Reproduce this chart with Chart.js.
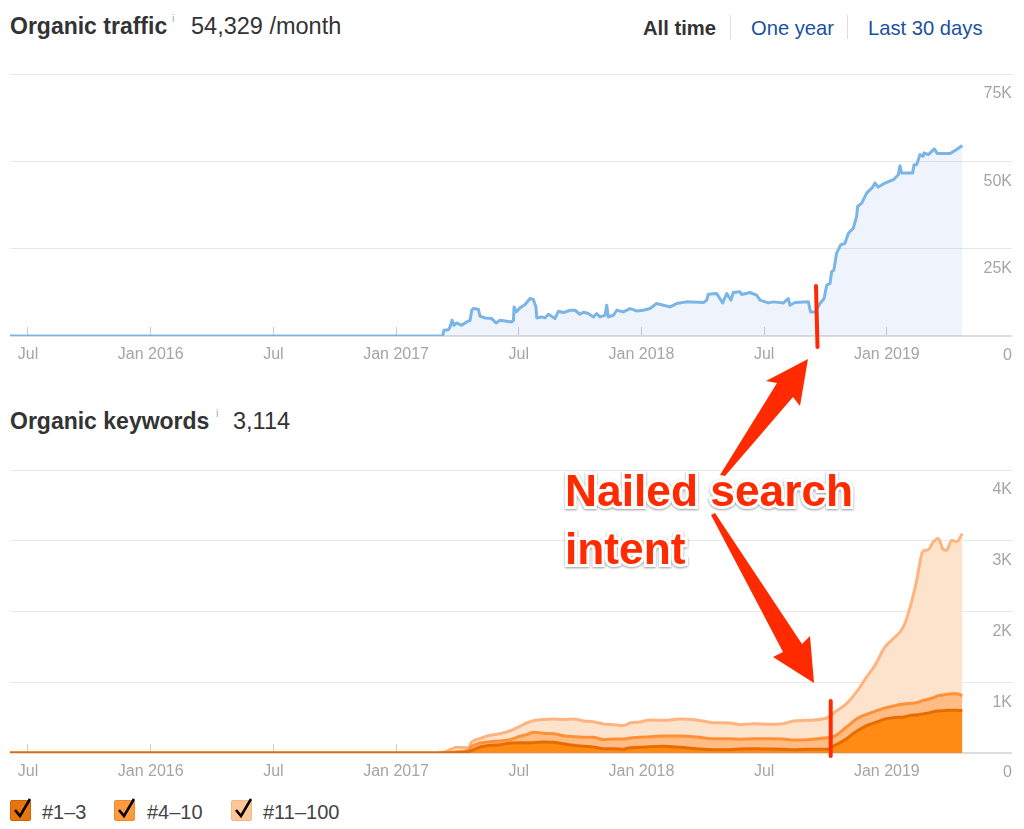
<!DOCTYPE html>
<html>
<head>
<meta charset="utf-8">
<script src="https://cdn.jsdelivr.net/npm/chart.js@4/dist/chart.umd.js"></script>
<style>
    html, body { margin: 0; padding: 0; background: #fff; }
    body { position: relative; width: 1024px; height: 829px; overflow: hidden; font-family: "Liberation Sans", sans-serif; color: #333; }
    canvas { position: absolute; left: 10px; }
    .txt { position: absolute; white-space: nowrap; line-height: 1; }
    .title { font-size: 23px; font-weight: bold; }
    .value { font-size: 23.5px; }
    .info { font-size: 11px; color: #aaa; }
    .range { font-size: 20.2px; color: #1a52a0; }
    .sep { position: absolute; top: 15px; width: 1px; height: 24px; background: #ddd; }
    .box { position: absolute; top: 800px; width: 19px; height: 19px; border-radius: 2px; border: 1px solid; }
    .legend { font-size: 20px; top: 802px; color: #444; }
    #overlay { position: absolute; left: 0; top: 0; }
    .note { font-size: 44.3px; font-weight: bold; color: #ff2a00; -webkit-text-stroke: 6px #fff; paint-order: stroke fill; filter: drop-shadow(0 1px 1px rgba(0,0,0,0.4)); }
</style>
</head>
<body>
<div class="txt title" style="left:10px;top:15px">Organic traffic</div>
<div class="txt info" style="left:172px;top:13px">i</div>
<div class="txt value" style="left:191px;top:15px">54,329 /month</div>
<div class="txt range" style="left:643px;top:18px;font-weight:bold;color:#333">All time</div>
<div class="sep" style="left:730px"></div>
<div class="txt range" style="left:751px;top:18px">One year</div>
<div class="sep" style="left:847px"></div>
<div class="txt range" style="left:868px;top:18px">Last 30 days</div>

<canvas id="traffic" width="1002" height="310" style="top:60px"></canvas>

<div class="txt title" style="left:10px;top:410px">Organic keywords</div>
<div class="txt info" style="left:216px;top:408px">i</div>
<div class="txt value" style="left:233px;top:410px">3,114</div>

<canvas id="keywords" width="1002" height="331" style="top:456px"></canvas>

<div class="box" style="left:10px;background:#e8740c;border-color:#c9650f"></div>
<div class="txt legend" style="left:42px">#1–3</div>
<div class="box" style="left:114px;background:#ff9a3e;border-color:#f08a30"></div>
<div class="txt legend" style="left:147px">#4–10</div>
<div class="box" style="left:231px;background:#ffc798;border-color:#f5b988"></div>
<div class="txt legend" style="left:263px">#11–100</div>

<svg id="overlay" width="1024" height="829">
    <g fill="none" stroke="#000" stroke-width="2.6">
        <path d="M15 810 L20 816 L30 799"/>
        <path d="M119 810 L124 816 L134 799"/>
        <path d="M236 810 L241 816 L251 799"/>
    </g>
    <g stroke="#ff2a00" stroke-width="4" stroke-linecap="round">
        <line x1="816" y1="286" x2="817.5" y2="347"/>
        <line x1="830.7" y1="701" x2="830.7" y2="756"/>
    </g>
    <g fill="#ff2a00">
        <polygon points="808,359 800,406 793,397 725,476 720,475 777,383 766,381"/>
        <polygon points="814,683 773,657 783,652 711,515 715,513 802,644 810,636"/>
    </g>
</svg>
<div class="txt note" style="left:565px;top:469px">Nailed search</div>
<div class="txt note" style="left:565px;top:527px">intent</div>

<script>
// x values are months counted from Jul 2015
const trafficData = [
    [-0.88, 0], [20.28, 100], [20.34, 1630], [20.56, 1820], [20.64, 2590], [20.74, 4500], [20.83, 3070], [20.96, 3740],
    [21.21, 3070], [21.45, 4020], [21.62, 4500], [21.70, 7380], [21.78, 7860], [22.02, 7660], [22.11, 5650], [22.35, 5170],
    [22.68, 4980], [22.89, 3740], [23.08, 4500], [23.33, 4310], [23.65, 4020], [23.74, 4500], [23.77, 8330], [23.87, 6900],
    [24.06, 8050], [24.31, 9000], [24.55, 10730], [24.71, 10440], [24.84, 8330], [24.88, 5170], [25.12, 5460], [25.28, 5170],
    [25.45, 6230], [25.77, 4980], [25.94, 7090], [26.18, 6710], [26.51, 7380], [26.75, 7380], [26.99, 6230], [27.16, 6800],
    [27.40, 6420], [27.65, 5460], [27.81, 6420], [27.97, 5460], [28.22, 5940], [28.30, 8810], [28.38, 5460], [28.63, 5940],
    [28.79, 7380], [29.11, 6900], [29.44, 7860], [29.77, 7190], [30.09, 7380], [30.42, 7860], [30.74, 9290], [31.07, 8810],
    [31.40, 8330], [31.72, 9290], [32.21, 9770], [33.03, 9580], [33.19, 10250], [33.27, 11980], [33.68, 12170], [33.97, 9480],
    [34.17, 12170], [34.38, 10250], [34.49, 12450], [34.82, 12650], [34.90, 11880], [35.31, 12450], [35.63, 11690], [35.80, 10250],
    [36.20, 9480], [36.45, 9770], [36.94, 9480], [37.18, 10730], [37.26, 8810], [37.51, 9580], [38.16, 9770], [38.27, 6900],
    [38.49, 6900], [38.73, 9290], [38.93, 10730], [39.06, 14560], [39.22, 15040], [39.30, 18390], [39.41, 18870], [39.54, 23660],
    [39.74, 26060], [39.95, 26540], [40.12, 29410], [40.36, 30850], [40.52, 34200], [40.57, 37070], [40.77, 38030], [41.01, 40900],
    [41.31, 42630], [41.42, 43780], [41.58, 42630], [41.91, 43780], [42.32, 44740], [42.56, 46180], [42.64, 48760], [42.72, 46650],
    [43.26, 46650], [43.33, 49050], [43.46, 49050], [43.62, 51920], [43.78, 51440], [43.82, 52400], [44.03, 51920], [44.32, 53550],
    [44.47, 52210], [45.09, 52210], [45.41, 53360], [45.69, 54510]
]

// month, top of #1-3, top of #4-10, top of #11-100
const keywordData = [
    [-0.88, 0, 0, 0], [20.00, 0, 0, 0], [20.31, 5, 5, 9], [20.64, 5, 9, 47], [20.96, 9, 14, 80], [21.53, 19, 38, 75],
    [21.70, 33, 94, 156], [22.11, 85, 141, 203], [22.59, 108, 160, 250], [23.08, 118, 170, 273], [23.57, 141, 189, 311],
    [24.06, 146, 236, 377], [24.39, 146, 259, 424], [24.71, 146, 292, 457], [25.20, 156, 278, 472], [25.69, 151, 273, 481],
    [26.18, 132, 245, 472], [26.67, 108, 231, 481], [27.16, 94, 222, 453], [27.65, 85, 222, 443], [28.14, 61, 189, 410],
    [28.63, 61, 198, 401], [29.11, 52, 198, 387], [29.44, 75, 212, 424], [29.93, 80, 222, 438], [30.42, 90, 231, 467],
    [31.07, 94, 240, 462], [31.89, 80, 240, 481], [32.70, 61, 226, 467], [33.52, 47, 203, 429], [34.33, 47, 203, 424],
    [34.82, 57, 193, 401], [35.47, 61, 203, 415], [36.29, 57, 203, 405], [36.94, 52, 198, 415], [37.43, 47, 184, 453],
    [38.08, 52, 189, 462], [39.06, 52, 217, 495], [39.46, 108, 240, 580], [40.03, 203, 368, 698], [40.52, 306, 481, 863],
    [41.01, 387, 547, 1075], [41.42, 429, 589, 1240], [41.91, 481, 637, 1499], [42.32, 500, 665, 1617], [42.81, 509, 693, 1782],
    [43.21, 533, 703, 2136], [43.46, 538, 712, 2442], [43.75, 552, 740, 2843], [44.03, 566, 759, 2876], [44.27, 585, 783, 2985],
    [44.52, 594, 811, 3032], [44.76, 599, 820, 2876], [44.92, 604, 830, 2867], [45.17, 604, 839, 3008], [45.41, 604, 839, 2985],
    [45.69, 599, 811, 3102]
]

const monthTicks = [0, 6, 12, 18, 24, 30, 36, 42]

function monthLabel(m) {
    const d = new Date(2015, 6 + m, 1)
    return d.getMonth() === 0 ? 'Jan ' + d.getFullYear() : 'Jul'
}

function kLabel(v) {
    return v === 0 ? '0' : (v / 1000) + 'K'
}

function chartOptions(yMax, yStep) {
    return {
        responsive: false,
        animation: false,
        layout: { padding: { top: 14 } },
        plugins: { legend: { display: false }, tooltip: { enabled: false } },
        scales: {
            x: {
                type: 'linear',
                min: -0.88,
                max: 48.12,
                afterBuildTicks: (scale) => { scale.ticks = monthTicks.map((v) => ({ value: v })) },
                afterFit: (scale) => {
                    scale.height = 34
                    // keep the plot flush with the canvas edges
                    scale.paddingLeft = 0
                    scale.paddingRight = 0
                },
                grid: { drawOnChartArea: false, tickLength: -9, tickColor: '#ccc', tickWidth: 1 },
                border: { color: '#ddd', width: 2 },
                ticks: {
                    autoSkip: false,
                    maxRotation: 0,
                    padding: 18,
                    color: '#a5a5a5',
                    font: { family: '"Liberation Sans"', size: 16 },
                    callback: (v) => monthLabel(v)
                }
            },
            y: {
                position: 'right',
                min: 0,
                max: yMax,
                grid: { color: '#e8e8e8', drawTicks: false },
                border: { display: false },
                ticks: {
                    stepSize: yStep,
                    mirror: true,
                    padding: 0,
                    labelOffset: 20,
                    color: '#a5a5a5',
                    font: { family: '"Liberation Sans"', size: 16 },
                    callback: (v) => kLabel(v)
                }
            }
        }
    }
}

const trafficChart = new Chart(document.getElementById('traffic').getContext('2d'), {
    type: 'line',
    data: {
        datasets: [{
            label: 'Organic traffic',
            data: trafficData.map((r) => ({ x: r[0], y: r[1] })),
            borderColor: '#7ab5e6',
            borderWidth: 3,
            borderJoinStyle: 'round',
            backgroundColor: 'rgba(120, 165, 230, 0.12)',
            fill: 'origin',
            pointRadius: 0,
            tension: 0
        }]
    },
    options: chartOptions(75000, 25000)
})

function band(label, col, line, fillColor) {
    return {
        label: label,
        data: keywordData.map((r) => ({ x: r[0], y: r[col] })),
        borderColor: line,
        borderWidth: 3,
        borderJoinStyle: 'round',
        backgroundColor: fillColor,
        fill: 'origin',
        pointRadius: 0,
        cubicInterpolationMode: 'monotone'
    }
}

const keywordChart = new Chart(document.getElementById('keywords').getContext('2d'), {
    type: 'line',
    data: {
        datasets: [
            band('#1–3', 1, '#e66c00', '#ff8a14'),
            band('#4–10', 2, '#ff9036', '#ffbd85'),
            band('#11–100', 3, '#ffb480', '#fde3cc')
        ]
    },
    options: chartOptions(4000, 1000)
})
</script>
</body>
</html>
